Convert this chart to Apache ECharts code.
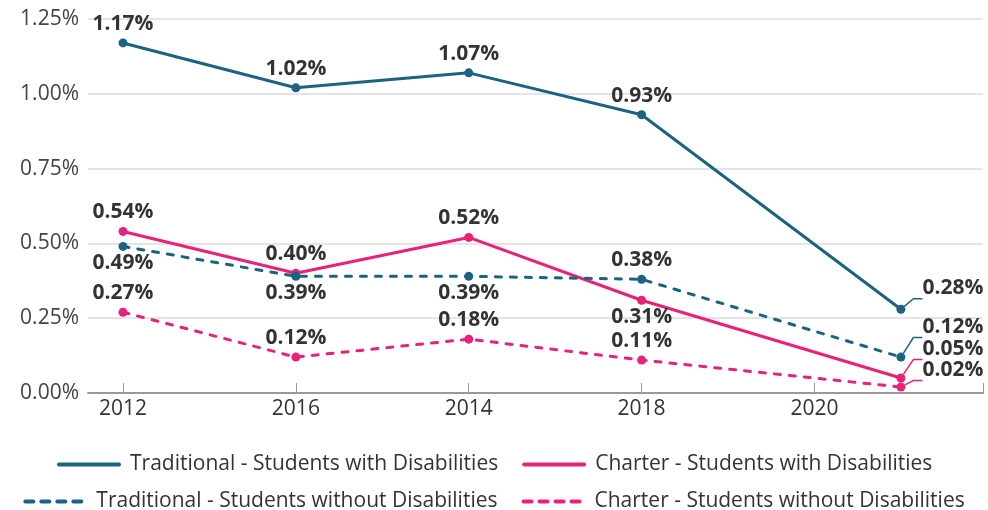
<!DOCTYPE html>
<html>
<head>
<meta charset="utf-8">
<script src="https://cdn.jsdelivr.net/npm/echarts@6/dist/echarts.min.js"></script>
<style>
  html, body { margin: 0; padding: 0; background: #fff; }
  #chart { width: 988px; height: 510px; }
</style>
</head>
<body>
<div id="chart"></div>
<script>
// x positions of the points (years) and the tick labels as printed
const years = [2012, 2014, 2016, 2018, 2021]
const tickYears = [2012, 2014, 2016, 2018, 2020]
const tickLabels = ['2012', '2016', '2014', '2018', '2020']

const tradWith = [1.17, 1.02, 1.07, 0.93, 0.28]
const charterWith = [0.54, 0.40, 0.52, 0.31, 0.05]
const tradWithout = [0.49, 0.39, 0.39, 0.38, 0.12]
const charterWithout = [0.27, 0.12, 0.18, 0.11, 0.02]

const TEAL = '#1c6382'
const PINK = '#e8217b'
const FONT = 'Open Sans'

// where each value label sits ('r' = right of last point with a leader line)
function labelFor (place, dy) {
  if (place === 'top') return { position: 'top', distance: 4 }
  if (place === 'bottom') return { position: 'bottom', distance: 2 }
  return { position: 'right', distance: 5, offset: [12, dy] }
}

function makeSeries (name, values, color, dashed, places, lastDy) {
  return {
    name: name,
    type: 'line',
    symbol: 'circle',
    symbolSize: 9,
    color: color,
    lineStyle: {
      width: 3,
      color: color,
      type: dashed ? [6, 9] : 'solid',
      cap: 'round'
    },
    label: {
      show: true,
      fontFamily: FONT,
      fontWeight: 'bold',
      fontSize: 21,
      color: '#333',
      formatter: p => p.value[1].toFixed(2) + '%'
    },
    labelLine: {
      length2: 9,
      lineStyle: { width: 1.5, color: color }
    },
    emphasis: { disabled: true },
    data: values.map((v, i) => {
      const place = places[i]
      const item = { value: [years[i], v], label: labelFor(place, lastDy) }
      if (place === 'r') item.labelLine = { show: true }
      return item
    })
  }
}

const chart = echarts.init(document.getElementById('chart'))

const legendBase = {
  left: 'center',
  itemWidth: 60,
  itemHeight: 4,
  itemGap: 24,
  itemStyle: { opacity: 0 },
  lineStyle: { width: 4, cap: 'round' },
  textStyle: { fontFamily: FONT, fontSize: 21, color: '#333', padding: [0, 0, 0, 6] },
  selectedMode: false
}

chart.setOption({
  animation: false,
  grid: { left: 88, right: 5, top: 19, bottom: 117, containLabel: false },
  xAxis: {
    type: 'value',
    min: 2011.595,
    max: 2021.95,
    splitLine: { show: false },
    axisLine: { lineStyle: { color: '#999', width: 2 } },
    axisTick: {
      show: true,
      inside: true,
      length: 10,
      customValues: tickYears.concat([2021.95]),
      lineStyle: { color: '#999', width: 1 }
    },
    axisLabel: {
      customValues: tickYears,
      formatter: v => tickLabels[tickYears.indexOf(v)],
      fontFamily: FONT,
      fontSize: 21,
      color: '#333',
      margin: 6
    }
  },
  yAxis: {
    type: 'value',
    min: 0,
    max: 1.25,
    interval: 0.25,
    axisLine: { show: false },
    axisTick: { show: false },
    splitLine: { lineStyle: { color: '#ddd', width: 1.5 } },
    axisLabel: {
      formatter: v => v.toFixed(2) + '%',
      fontFamily: FONT,
      fontSize: 21,
      color: '#444',
      margin: 9
    }
  },
  legend: [
    Object.assign({}, legendBase, {
      left: 52,
      top: 449,
      data: ['Traditional - Students with Disabilities', 'Charter - Students with Disabilities']
    }),
    Object.assign({}, legendBase, {
      left: 'center',
      top: 486,
      data: [
        { name: 'Traditional - Students without Disabilities', lineStyle: { type: [8, 8] } },
        { name: 'Charter - Students without Disabilities', lineStyle: { type: [8, 8] } }
      ]
    })
  ],
  series: [
    makeSeries('Traditional - Students with Disabilities', tradWith, TEAL, false,
      ['top', 'top', 'top', 'top', 'r'], -21),
    makeSeries('Charter - Students with Disabilities', charterWith, PINK, false,
      ['top', 'top', 'top', 'bottom', 'r'], -29),
    makeSeries('Traditional - Students without Disabilities', tradWithout, TEAL, true,
      ['bottom', 'bottom', 'bottom', 'top', 'r'], -30),
    makeSeries('Charter - Students without Disabilities', charterWithout, PINK, true,
      ['top', 'top', 'top', 'top', 'r'], -17)
  ]
})
</script>
</body>
</html>
